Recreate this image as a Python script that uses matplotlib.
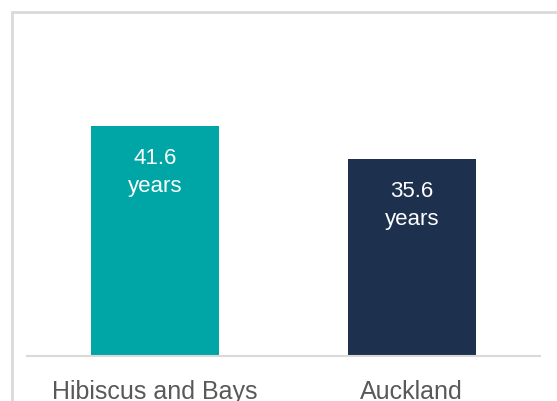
import matplotlib.pyplot as plt
from matplotlib.patches import Rectangle

areas = ['Hibiscus and Bays', 'Auckland']
median_age = [41.6, 35.6]
bar_colors = ['#00A6A6', '#1D314F']

plt.rcParams['font.family'] = ['Liberation Sans', 'DejaVu Sans']

fig = plt.figure(figsize=(5.57, 4.01), dpi=100)
W, H = 557, 401

# chart frame (cropped on right and bottom)
fig.patches.append(Rectangle((12 / W, -0.1), 1.2, (H - 11.5) / H + 0.1,
                             transform=fig.transFigure, fill=False,
                             edgecolor='#d9d9d9', linewidth=2))

ax = fig.add_axes([27 / W, (H - 356) / H, 513 / W, 332 / H])
x = range(len(areas))
bars = ax.bar(x, median_age, width=0.5, color=bar_colors)
ax.set_xlim(-0.5, 1.5)
ax.set_ylim(0, 60)

for s in ['top', 'right', 'left']:
    ax.spines[s].set_visible(False)
ax.spines['bottom'].set_color('#d9d9d9')
ax.spines['bottom'].set_linewidth(1.5)
ax.set_yticks([])
ax.set_xticks(list(x))
ax.set_xticklabels(areas, fontsize=18, color='#595959')
ax.tick_params(axis='x', length=0, pad=17)

for b, v in zip(bars, median_age):
    ax.annotate(f'{v}\nyears', (b.get_x() + b.get_width() / 2, v),
                xytext=(0, -16), textcoords='offset points',
                ha='center', va='top', color='white', fontsize=16,
                linespacing=1.45)

fig.savefig('out.png', dpi=100)
